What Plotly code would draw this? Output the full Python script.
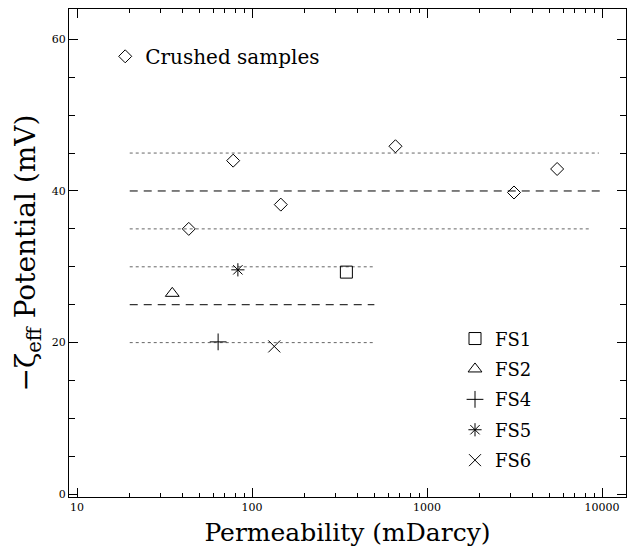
import plotly.graph_objects as go

# ---- data ----
crushed_perm = [43.5, 78, 146, 660, 3140, 5540]
crushed_zeta = [35.0, 44.0, 38.2, 45.9, 39.8, 42.9]

fs_names = ["FS1", "FS2", "FS4", "FS5", "FS6"]
fs_perm = [346, 35, 64, 83, 134]
fs_zeta = [29.3, 26.5, 20.1, 29.6, 19.5]

ref_level = [45, 40, 35, 30, 25, 20]
ref_x0 = [20, 20, 20, 20, 20, 20]
ref_x1 = [9600, 10000, 8500, 500, 500, 500]

x_tick_vals = [10, 100, 1000, 10000]
x_tick_text = ["10", "100", "1000", "10000"]
y_tick_vals = [0, 20, 40, 60]

# ---- styles ----
ref_styles = ["dot", "8px,6px", "dot", "dot", "8px,6px", "dot"]
ref_colors = ["#666", "#000", "#666", "#666", "#000", "#666"]
fs_symbols = ["square-open", "triangle-up-open", "cross-thin-open", "asterisk-open", "x-thin-open"]
fs_sizes = [12, 12, 12, 11, 12]

SERIF = "DejaVu Serif"

fig = go.Figure()

for lv, a, b, ds, col in zip(ref_level, ref_x0, ref_x1, ref_styles, ref_colors):
    fig.add_trace(go.Scatter(
        x=[a, b], y=[lv, lv], mode="lines",
        line=dict(color=col, width=1, dash=ds),
        showlegend=False, hoverinfo="skip"))

fig.add_trace(go.Scatter(
    x=crushed_perm, y=crushed_zeta, mode="markers", name="Crushed samples",
    marker=dict(symbol="diamond-open", size=10, color="black", line=dict(width=1, color="black")),
    legend="legend"))

for nm, xv, yv, sym, sz in zip(fs_names, fs_perm, fs_zeta, fs_symbols, fs_sizes):
    fig.add_trace(go.Scatter(
        x=[xv], y=[yv], mode="markers", name=nm, legendgroup=nm,
        marker=dict(symbol=sym, size=sz, color="black", line=dict(width=1, color="black")),
        legend="legend2"))

minor_x = [d * 10 ** e for e in range(1, 4) for d in range(2, 10)]

fig.update_layout(
    width=631, height=555,
    margin=dict(l=69, r=5, t=9, b=58),
    paper_bgcolor="white", plot_bgcolor="white",
    font=dict(family=SERIF, color="black"),
    xaxis=dict(
        type="log", range=[0.954, 4.137],
        tickvals=x_tick_vals, ticktext=x_tick_text,
        ticks="inside", ticklen=9, tickwidth=1, tickcolor="black",
        minor=dict(tickvals=minor_x, ticks="inside", ticklen=4, tickwidth=1, tickcolor="black", showgrid=False),
        showline=True, linecolor="black", linewidth=1, mirror="allticks",
        showgrid=False, zeroline=False,
        tickfont=dict(family=SERIF, size=11),
        title=dict(text="Permeability (mDarcy)", font=dict(family=SERIF, size=25), standoff=10),
    ),
    yaxis=dict(
        range=[-0.36, 64.0],
        tickvals=y_tick_vals,
        ticks="inside", ticklen=9, tickwidth=1, tickcolor="black",
        minor=dict(dtick=5, ticks="inside", ticklen=6, tickwidth=1, tickcolor="black", showgrid=False),
        showline=True, linecolor="black", linewidth=1, mirror="allticks",
        showgrid=False, zeroline=False,
        tickfont=dict(family=SERIF, size=11),
        title=dict(text="−ζ<sub>eff</sub> Potential (mV)", font=dict(family=SERIF, size=28), standoff=7),
    ),
    legend=dict(
        x=0.065, y=0.943, xanchor="left", yanchor="top",
        bgcolor="rgba(0,0,0,0)", borderwidth=0,
        font=dict(family=SERIF, size=20), itemwidth=30, tracegroupgap=0,
    ),
    legend2=dict(
        x=0.693, y=0.362, xanchor="left", yanchor="top",
        bgcolor="rgba(0,0,0,0)", borderwidth=0,
        font=dict(family=SERIF, size=18), itemwidth=30, tracegroupgap=4,
    ),
)

fig.write_html("out.html", config={"displayModeBar": False},
               post_script="document.body.style.margin='0';")
